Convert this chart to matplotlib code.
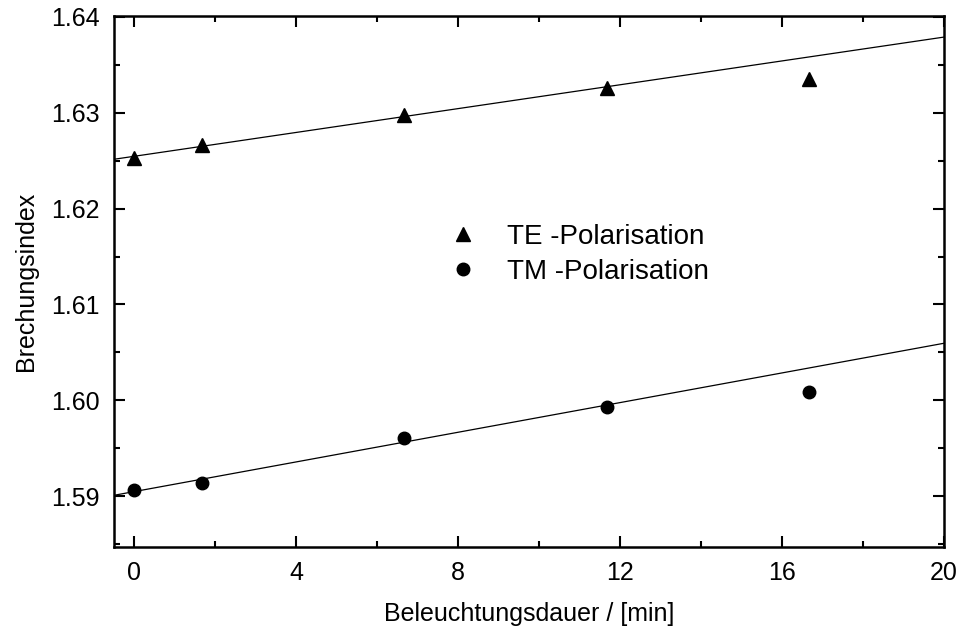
import numpy as np
import matplotlib.pyplot as plt
from matplotlib.ticker import MultipleLocator

plt.rcParams['font.family'] = ['Liberation Sans', 'DejaVu Sans']

# Beleuchtungsdauer in Minuten
t_min = [0.0, 1.67, 6.67, 11.67, 16.67]
# Brechungsindex fuer beide Polarisationen
n_te = [1.6253, 1.6266, 1.6298, 1.6326, 1.6335]
n_tm = [1.5906, 1.5914, 1.5961, 1.5993, 1.6009]

# lineare Anpassung ueber die ersten vier Messpunkte
n_fit = 4

fig = plt.figure(figsize=(9.61, 6.33), dpi=100)
ax = fig.add_axes([0.1186, 0.1359, 0.8637, 0.8388])

xlim = (-0.5, 20)
xx = np.array(xlim)
for n in (n_te, n_tm):
    p = np.polyfit(t_min[:n_fit], n[:n_fit], 1)
    ax.plot(xx, np.polyval(p, xx), color='black', lw=0.9)

ax.plot(t_min, n_te, '^', color='black', ms=10, label='TE -Polarisation')
ax.plot(t_min, n_tm, 'o', color='black', ms=9, label='TM -Polarisation')

ax.set_xlim(*xlim)
ax.set_ylim(1.5847, 1.6401)
ax.xaxis.set_major_locator(MultipleLocator(4))
ax.xaxis.set_minor_locator(MultipleLocator(2))
ax.yaxis.set_major_locator(MultipleLocator(0.01))
ax.yaxis.set_minor_locator(MultipleLocator(0.005))
ax.yaxis.set_major_formatter(plt.FormatStrFormatter('%.2f'))

ax.tick_params(which='both', direction='in', top=True, right=True,
               width=1.5, labelsize=18, pad=10)
ax.tick_params(which='major', length=8)
ax.tick_params(which='minor', length=4.5)
for s in ax.spines.values():
    s.set_linewidth(1.8)

ax.set_xlabel('Beleuchtungsdauer / [min]', fontsize=18, labelpad=12)
ax.set_ylabel('Brechungsindex', fontsize=18, labelpad=10)

ax.legend(loc='upper left', bbox_to_anchor=(0.3735, 0.655), frameon=False,
          fontsize=20, handlelength=1.0, handletextpad=1.08, labelspacing=0.32)

fig.savefig('out.png', dpi=100)
